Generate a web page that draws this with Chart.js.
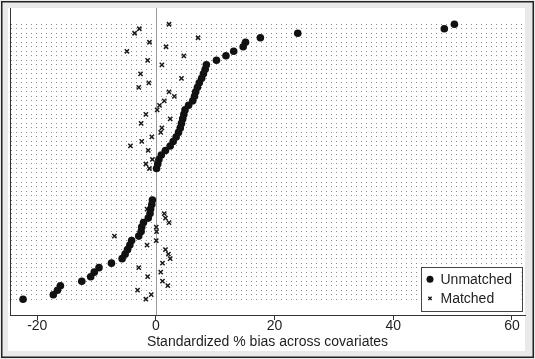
<!DOCTYPE html>
<html><head><meta charset="utf-8">
<script src="https://cdn.jsdelivr.net/npm/chart.js@4/dist/chart.umd.min.js"></script>
<style>html,body{margin:0;padding:0;background:#fff;}#wrap{width:535px;height:359px;}</style>
</head><body><div id="wrap"><canvas id="c" width="535" height="359"></canvas></div>
<script>
// Tick labels on the bias axis
const xTickValues = [-20, 0, 20, 40, 60];
// Series names
const seriesNames = ['Unmatched', 'Matched'];
const axisTitle = 'Standardized % bias across covariates';
// One entry per covariate row, top to bottom (null = no mark visible)
const unmatchedBias = [
  50.3, 48.6, 23.9, 17.6, 15.1, 14.7, 13.1, 11.8, 10.2, 8.5,
  8.3, 8.0, 7.7, 7.3, 7.0, 6.7, 6.5, 6.2, 5.5, 4.9,
  4.7, 4.5, 4.3, 4.1, 3.8, 3.4, 2.9, 2.4, 1.6, 0.9,
  0.5, 0.3, 0.1, null, null, null, null, null, null, -0.6,
  -0.7, -0.9, -1.0, -1.3, -2.1, -2.4, -2.5, -2.9, -4.1, -4.4,
  -4.8, -5.2, -5.7, -7.5, -9.6, -10.4, -11.0, -12.5, -16.1, -16.6,
  -17.3, -22.4
];
const matchedBias = [
  2.2, -2.8, -3.6, 7.1, -1.1, 1.7, -4.9, 4.7, -1.4, 1.0,
  null, -2.6, 4.3, -1.2, -2.9, 2.2, 3.1, 1.4, 0.6, 0.2,
  -1.7, 2.4, -2.5, 1.0, 0.8, -0.7, -2.4, -4.3, -1.3, null,
  -0.6, -1.7, -1.1, null, null, null, null, null, null, null,
  null, -1.5, 1.4, 1.6, 2.2, 0.05, 0.1, -7.0, 0.05, -1.5,
  1.6, 2.1, 2.4, 1.1, -2.9, 0.8, -1.4, 1.1, 2.0, -3.1,
  -0.8, -1.7
];
const rowIndex = unmatchedBias.map((_, i) => i);

function toPoints(arr) {
  return arr.map((v, i) => v == null ? null : {x: v, y: i}).filter(p => p);
}
const FONT = "'Liberation Sans', Arial, sans-serif";
const TXT = '#1e1e1e';

const frame = {
  id: 'frame',
  beforeDraw(chart) {
    const c = chart.ctx;
    c.save();
    c.fillStyle = '#e9e9e9';
    c.fillRect(0, 0, chart.width, chart.height);
    c.fillStyle = '#ffffff';
    c.fillRect(8, 8, 517, 343);
    c.strokeStyle = '#222';
    c.lineWidth = 1.5;
    c.strokeRect(1.75, 1.75, chart.width - 3.5, chart.height - 3.5);
    c.restore();
  },
  beforeDatasetsDraw(chart) {
    const c = chart.ctx, a = chart.chartArea;
    const x0 = Math.round(chart.scales.x.getPixelForValue(0)) + 0.5;
    c.save();
    c.strokeStyle = '#9a9a9a';
    c.lineWidth = 1;
    c.beginPath();
    c.moveTo(x0, a.top);
    c.lineTo(x0, a.bottom);
    c.stroke();
    c.restore();
  },
  afterDraw(chart) {
    const c = chart.ctx, a = chart.chartArea;
    const right = a.right - 3.5, bottom = a.bottom - 4;
    const w = 101, h = 44;
    const l = right - w, t = bottom - h;
    c.save();
    c.fillStyle = '#fff';
    c.fillRect(l, t, w, h);
    c.strokeStyle = '#444';
    c.lineWidth = 1;
    c.strokeRect(Math.round(l) + 0.5, Math.round(t) + 0.5, w, h);
    const ds = chart.data.datasets;
    const rows = [t + 12.3, t + 31.3];
    ds.forEach((d, i) => {
      c.fillStyle = d.backgroundColor; c.strokeStyle = d.borderColor; c.lineWidth = d.borderWidth;
      Chart.helpers.drawPoint(c, {pointStyle: d.pointStyle, radius: i === 0 ? 3.5 : 2.3, borderWidth: d.borderWidth, rotation: 0}, l + 9.5, rows[i]);
      c.fillStyle = TXT;
      c.font = '14px ' + FONT;
      c.textBaseline = 'middle';
      c.textAlign = 'left';
      c.fillText(d.label, l + 20, rows[i] + 0.5);
    });
    c.restore();
  }
};

new Chart(document.getElementById('c'), {
  type: 'scatter',
  data: {
    datasets: [
      {label: seriesNames[0], data: toPoints(unmatchedBias), pointStyle: 'circle', pointRadius: 3.8,
       backgroundColor: '#111', borderColor: '#111', borderWidth: 0},
      {label: seriesNames[1], data: toPoints(matchedBias), pointStyle: 'crossRot', pointRadius: 3.0,
       backgroundColor: '#1a1a1a', borderColor: '#1a1a1a', borderWidth: 1.5}
    ]
  },
  options: {
    responsive: false, animation: false, devicePixelRatio: 1,
    layout: {padding: {left: 10, right: 10, top: 8, bottom: 10}},
    plugins: {legend: {display: false}, tooltip: {enabled: false}},
    scales: {
      x: {
        type: 'linear', min: -24.6, max: 62.2,
        afterBuildTicks: s => { s.ticks = xTickValues.map(v => ({value: v})); },
        grid: {drawOnChartArea: false, drawTicks: true, tickLength: 5, color: '#333', tickColor: '#333'},
        border: {display: true, color: '#333', width: 1},
        ticks: {font: {family: FONT, size: 14, lineHeight: 1}, color: TXT, padding: -1, maxRotation: 0, autoSkip: false},
        title: {display: true, text: axisTitle, font: {family: FONT, size: 14, lineHeight: 1}, color: TXT, padding: {top: 3, bottom: 0}}
      },
      y: {
        type: 'linear', reverse: true, min: -3.6, max: 64.5,
        afterBuildTicks: s => { s.ticks = rowIndex.map(v => ({value: v})); },
        ticks: {display: false},
        grid: {color: '#8c8c8c', lineWidth: 1, drawTicks: false},
        border: {display: true, color: '#333', width: 1, dash: [1, 4]}
      }
    }
  },
  plugins: [frame]
});
</script></body></html>
